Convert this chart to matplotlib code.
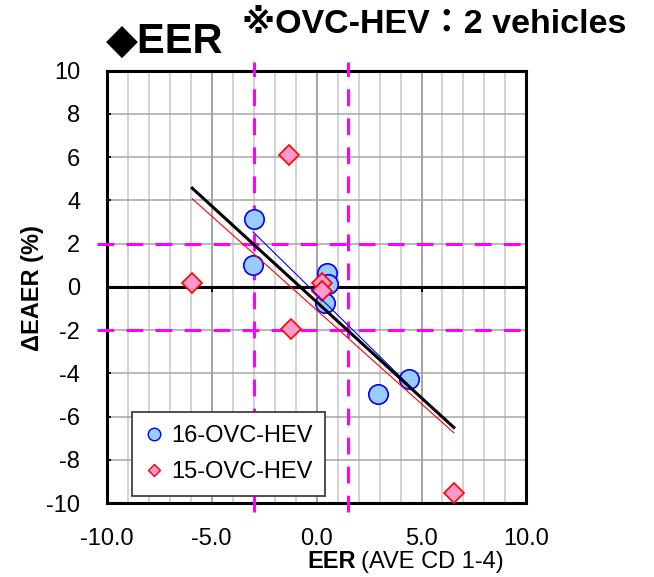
"""EER vs delta-EAER scatter with trendlines (OVC-HEV)."""

import numpy as np
import matplotlib
matplotlib.use("Agg")
import matplotlib.pyplot as plt
from matplotlib.lines import Line2D
from matplotlib.ticker import MultipleLocator, FormatStrFormatter

plt.rcParams["font.family"] = ["Liberation Sans", "DejaVu Sans",
                               "Noto Sans CJK JP"]
plt.rcParams["axes.unicode_minus"] = False

# --- data ---
ovc16_x = [-2.99, -3.02, 0.52, 0.55, 0.40, 4.40, 2.95]
ovc16_y = [3.13, 1.01, 0.63, 0.13, -0.76, -4.25, -4.96]
ovc15_x = [-1.32, -5.92, -1.22, 0.24, 0.27, 6.54]
ovc15_y = [6.11, 0.19, -1.95, 0.17, -0.18, -9.51]

labels = ["16-OVC-HEV", "15-OVC-HEV"]
x_limits = (-10, 10)
y_limits = (-10, 10)
x_thresholds = [-3.0, 1.5]
y_thresholds = [-2.0, 2.0]

MAGENTA = "#FF00FF"

fig = plt.figure(figsize=(6.54, 5.77), dpi=100)
ax = fig.add_axes([0.163, 0.128, 0.642, 0.7495])

ax.set_xlim(*x_limits)
ax.set_ylim(*y_limits)

# grid: vertical every 1 (darker every 5), horizontal every 2
ax.xaxis.set_major_locator(MultipleLocator(5))
ax.xaxis.set_minor_locator(MultipleLocator(1))
ax.yaxis.set_major_locator(MultipleLocator(2))
ax.grid(which="minor", axis="x", color="#c8c8c8", lw=1.1)
ax.grid(which="major", axis="x", color="#8c8c8c", lw=1.1)
ax.grid(which="major", axis="y", color="#a6a6a6", lw=1.1)
ax.set_axisbelow(True)

ax.xaxis.set_major_formatter(FormatStrFormatter("%.1f"))
ax.tick_params(axis="x", which="both", length=0, pad=18, labelsize=17)
ax.tick_params(axis="y", direction="in", length=3, width=1.3, pad=19,
               labelsize=17)

for sp in ax.spines.values():
    sp.set_linewidth(2.2)

# zero line with small down ticks
ax.axhline(0, color="black", lw=2.2, zorder=2)
for xv in [-5, 0, 5]:
    ax.plot([xv, xv], [0, -0.2], color="black", lw=1.5, zorder=2)

# threshold lines (magenta dashed, running a bit past the frame)
dash = (5.5, 4.0)
for yv in y_thresholds:
    ax.plot([-10.45, 10], [yv, yv], color=MAGENTA, lw=2.2, dashes=dash,
            clip_on=False, zorder=3)
for xv in x_thresholds:
    ax.plot([xv, xv], [-10.42, 10.41], color=MAGENTA, lw=2.2, dashes=dash,
            clip_on=False, zorder=3)

# markers
ax.plot(ovc16_x, ovc16_y, "o", ms=14, mfc="#99CCFF", mec="#0000FF",
        mew=1.2, ls="none", zorder=4)
ax.plot(ovc15_x, ovc15_y, "D", ms=10, mfc="#FF99CC", mec="#FF0000",
        mew=1.2, ls="none", zorder=5)


# linear trendlines
def trend(xs, ys, color, lw):
    xs = np.asarray(xs)
    k, b = np.polyfit(xs, ys, 1)
    xx = np.array([xs.min(), xs.max()])
    ax.plot(xx, k * xx + b, color=color, lw=lw, zorder=6)


trend(ovc16_x, ovc16_y, "#0000FF", 0.8)
trend(ovc15_x, ovc15_y, "#FF0000", 0.8)
trend(ovc16_x + ovc15_x, ovc16_y + ovc15_y, "black", 2.2)

# legend
handles = [
    Line2D([], [], marker="o", ls="none", ms=9, mfc="#99CCFF", mec="#0000FF"),
    Line2D([], [], marker="D", ls="none", ms=6.5, mfc="#FF99CC", mec="#FF0000"),
]
leg = ax.legend(handles, labels, loc="lower left",
                bbox_to_anchor=(0.06, 0.016), borderaxespad=0,
                fontsize=17, frameon=True, fancybox=False, framealpha=1,
                handlelength=0.8, handletextpad=0.3, labelspacing=0.6,
                borderpad=0.55)
leg.get_frame().set_edgecolor("#404040")
leg.get_frame().set_linewidth(1.3)
leg.set_zorder(10)

# titles and axis labels
fig.text(106 / 654, 1 - 53 / 577, "◆EER", fontsize=30, fontweight="bold",
         va="baseline", ha="left")
fig.text(242 / 654, 1 - 33 / 577, "※OVC-HEV：2 vehicles", fontsize=24.5,
         fontweight="bold", va="baseline", ha="left")
fig.text(33 / 654, 1 - 288 / 577, "ΔEAER (%)", fontsize=17,
         fontweight="bold", rotation=90, va="center", ha="center")
fig.text(356 / 654, 1 - 568 / 577, "EER", fontsize=17, fontweight="bold",
         va="baseline", ha="right")
fig.text(361 / 654, 1 - 568 / 577, "(AVE CD 1-4)", fontsize=17,
         va="baseline", ha="left")

plt.savefig("out.png", dpi=100)
